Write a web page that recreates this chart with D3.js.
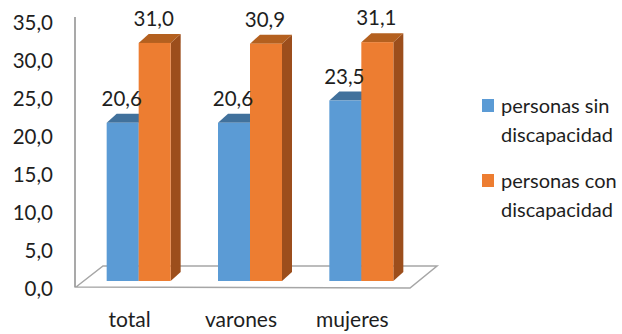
<!DOCTYPE html>
<html>
<head>
<meta charset="utf-8">
<script src="https://cdn.jsdelivr.net/npm/d3@7"></script>
<style>
  body { margin: 0; background: #fff; }
  text { font-family: Lato, "Open Sans", sans-serif; fill: #1e1e1e; }
</style>
</head>
<body>
<div id="chart"></div>
<script>
// chart data
const categories = ["total", "varones", "mujeres"];
const seriesNames = ["personas sin discapacidad", "personas con discapacidad"];
const sinValues = [20.6, 20.6, 23.5];
const conValues = [31.0, 30.9, 31.1];
const yTicks = [0, 5, 10, 15, 20, 25, 30, 35];

const colors = {
    front: ["#5B9BD5", "#ED7D31"],
    top: ["#41719C", "#B4601F"],
    side: ["#3F6E99", "#9C4E1C"]
};

let width = 622, height = 334;
let svg = d3.select("#chart").append("svg")
    .attr("width", width)
    .attr("height", height);

let fmt = v => d3.format(".1f")(v).replace(".", ",");

// scales
let x = d3.scaleBand().domain(categories).range([83, 417]);
let barW = 32;
let xs = d3.scaleBand().domain(seriesNames).range([0, barW * 2]);
let y = d3.scaleLinear().domain([0, 35]).range([281, 281 - 7.68 * 35]);
let yAxisScale = d3.scaleLinear().domain([0, 35]).range([288, 22]);

let depthX = 10, depthY = 9;
let floorDX = 27, floorDY = 21;

// floor
let floorFront = 287, floorLeft = 76, floorRight = 410;
svg.append("path")
    .attr("d", `M${floorLeft},${floorFront} L${floorLeft + floorDX},${floorFront - floorDY} L${floorRight + floorDX},${floorFront - floorDY} L${floorRight},${floorFront + 1} Z`)
    .attr("fill", "none")
    .attr("stroke", "#A6A6A6")
    .attr("stroke-width", 1.5);

// y axis
let yAxis = d3.axisLeft(yAxisScale).tickValues(yTicks).tickSize(0).tickPadding(0).tickFormat(fmt);
let gy = svg.append("g")
    .attr("transform", "translate(53,0)")
    .call(yAxis);
gy.select(".domain").remove();
gy.selectAll("text").style("font-size", "20.5px").attr("dy", "0.35em");

svg.append("line")
    .attr("x1", 75).attr("x2", 75)
    .attr("y1", 17).attr("y2", 287)
    .attr("stroke", "#8C8C8C")
    .attr("stroke-width", 1.5);

// bars
let rows = [];
categories.forEach((c, i) => {
    rows.push({ cat: c, s: 0, v: sinValues[i] });
    rows.push({ cat: c, s: 1, v: conValues[i] });
});
let barX = d => x(d.cat) + (x.bandwidth() - barW * 2) / 2 + xs(seriesNames[d.s]);

let bars = svg.selectAll(".bar").data(rows).enter().append("g").attr("class", "bar");

bars.each(function (d) {
    let g = d3.select(this);
    let x0 = barX(d);
    let y0 = y(d.v), yb = y(0);
    // side
    g.append("path")
        .attr("d", `M${x0 + barW},${y0} L${x0 + barW + depthX},${y0 - depthY} L${x0 + barW + depthX},${yb - depthY} L${x0 + barW},${yb} Z`)
        .attr("fill", colors.side[d.s]);
    // top
    g.append("path")
        .attr("d", `M${x0},${y0} L${x0 + depthX},${y0 - depthY} L${x0 + barW + depthX},${y0 - depthY} L${x0 + barW},${y0} Z`)
        .attr("fill", colors.top[d.s]);
    // front
    g.append("rect")
        .attr("x", x0).attr("y", y0)
        .attr("width", barW).attr("height", yb - y0)
        .attr("fill", colors.front[d.s]);
});

// value labels on top of everything
svg.selectAll(".val").data(rows).enter().append("text")
    .attr("class", "val")
    .attr("x", d => barX(d) + barW / 2 - 1)
    .attr("y", d => y(d.v) - 17)
    .attr("text-anchor", "middle")
    .style("font-size", "20.5px")
    .text(d => fmt(d.v));

// category labels
svg.selectAll(".cat").data(categories).enter().append("text")
    .attr("class", "cat")
    .attr("x", d => x(d) + x.bandwidth() / 2 - 9)
    .attr("y", 327)
    .attr("text-anchor", "middle")
    .style("font-size", "21px")
    .text(d => d);

// legend
let legendLines = [["personas sin", "discapacidad"], ["personas con", "discapacidad"]];
let legend = svg.append("g").attr("transform", "translate(482,99)");
legendLines.forEach((lines, i) => {
    let g = legend.append("g").attr("transform", `translate(0,${i * 75})`);
    g.append("rect").attr("width", 12).attr("height", 13).attr("fill", colors.front[i]);
    g.selectAll("text").data(lines).enter().append("text")
        .attr("x", 19)
        .attr("y", (d, j) => 14 + j * 29)
        .style("font-size", "20px")
        .text(d => d);
});
</script>
</body>
</html>
